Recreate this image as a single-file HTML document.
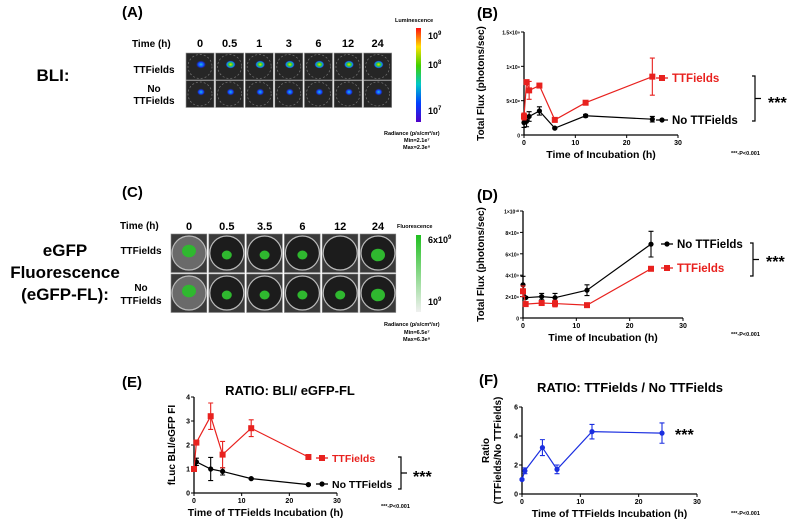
<!DOCTYPE html>
<html><head><meta charset="utf-8"><style>
body{margin:0;background:#fff}
svg{display:block;font-family:"Liberation Sans",Arial,sans-serif}
.b{font-weight:bold}
</style></head><body>
<svg id="fig" width="798" height="524" viewBox="0 0 798 524">
<defs>
<linearGradient id="lum" x1="0" y1="1" x2="0" y2="0">
<stop offset="0" stop-color="#5000c8"/><stop offset="0.2" stop-color="#0040ff"/><stop offset="0.4" stop-color="#00c8c8"/><stop offset="0.6" stop-color="#40d000"/><stop offset="0.8" stop-color="#ffe000"/><stop offset="1" stop-color="#ff1010"/>
</linearGradient>
<linearGradient id="gfp" x1="0" y1="1" x2="0" y2="0"><stop offset="0" stop-color="#f0f0f0"/><stop offset="1" stop-color="#20c020"/></linearGradient>
<radialGradient id="blob" cx="0.5" cy="0.5" r="0.5"><stop offset="0" stop-color="#ffd000"/><stop offset="0.4" stop-color="#30d030"/><stop offset="0.75" stop-color="#1080ff"/><stop offset="1" stop-color="#2020c0" stop-opacity="0"/></radialGradient>
<radialGradient id="blobb" cx="0.5" cy="0.5" r="0.5"><stop offset="0" stop-color="#20c0e0"/><stop offset="0.6" stop-color="#1040ff"/><stop offset="1" stop-color="#2020c0" stop-opacity="0"/></radialGradient>
</defs>
<g class="b" font-size="17" text-anchor="middle">
<text x="53" y="81">BLI:</text>
<text x="65" y="256">eGFP</text>
<text x="65" y="278">Fluorescence</text>
<text x="65" y="300">(eGFP-FL):</text>
</g>
<g class="b" font-size="15">
<text x="122" y="17">(A)</text>
<text x="122" y="197">(C)</text>
<text x="122" y="387">(E)</text>
<text x="477" y="18">(B)</text>
<text x="477" y="200">(D)</text>
<text x="479" y="385">(F)</text>
</g>
<g id="imgA"></g>
<g id="imgC"></g>
<g id="chartB"></g>
<g id="chartD"></g>
<g id="chartE"></g>
<g id="chartF"></g>
</svg>
<script>
const NS="http://www.w3.org/2000/svg";
function mk(p,t,a,txt){const e=document.createElementNS(NS,t);for(const k in a)e.setAttribute(k,a[k]);if(txt!==undefined)e.textContent=txt;p.appendChild(e);return e;}

const timesA=["0","0.5","1","3","6","12","24"];
const timesC=["0","0.5","3.5","6","12","24"];
(function(){
 const g=document.getElementById('imgA');
 const t=mk(g,'text',{x:132,y:47,'font-size':10,'font-weight':'bold'},'Time (h)');
 
 const x0=186,w=29.6;
 timesA.forEach((s,i)=>{
  const tx=mk(g,'text',{x:x0+i*w+14,y:47,'font-size':11,'font-weight':'bold','text-anchor':'middle'},s);
  
  for(let r=0;r<2;r++){
   const cx=x0+i*w+14,cy=53+r*27.5+13.5;
   const rc=mk(g,'rect',{x:x0+i*w,y:53+r*27.5,width:w-1.5,height:27,fill:'#262626',stroke:'#999','stroke-width':0.6});
   
   mk(g,'circle',{cx:cx,cy:cy,r:12,fill:'none',stroke:'#777','stroke-width':0.7,'stroke-dasharray':'2 2'});
   mk(g,'ellipse',{cx:cx+1,cy:cy-2,rx:r?4:5,ry:r?3.5:4,fill:r?'url(#blobb)':(i==0?'url(#blobb)':'url(#blob)')});
  }
 });
 const l1=mk(g,'text',{x:154,y:73,'font-size':10,'font-weight':'bold','text-anchor':'middle'},'TTFields');
 
 mk(g,'text',{x:154,y:92,'font-size':10,'font-weight':'bold','text-anchor':'middle'},'No');
 mk(g,'text',{x:154,y:104,'font-size':10,'font-weight':'bold','text-anchor':'middle'},'TTFields');
 const cb=mk(g,'rect',{x:416,y:28,width:5,height:94,fill:'url(#lum)'});
 
 mk(g,'text',{x:395,y:22,'font-size':5.5,'font-weight':'bold'},'Luminescence');
 [['10',39,'9'],['10',68,'8'],['10',114,'7']].forEach(a=>{const e=mk(g,'text',{x:428,y:a[1],'font-size':9,'font-weight':'bold'},a[0]);mk(e,'tspan',{dy:-4,'font-size':6},a[2]);});
 mk(g,'text',{x:384,y:135,'font-size':5.5,'font-weight':'bold'},'Radiance (p/s/cm²/sr)');
 mk(g,'text',{x:404,y:142,'font-size':5.5,'font-weight':'bold'},'Min=2.1e⁷');
 mk(g,'text',{x:403,y:149,'font-size':5.5,'font-weight':'bold'},'Max=2.3e⁸');
})();
(function(){
 const g=document.getElementById('imgC');
 const t=mk(g,'text',{x:120,y:229,'font-size':10,'font-weight':'bold'},'Time (h)');
 
 const x0=171,w=37.8;
 timesC.forEach((s,i)=>{
  const tx=mk(g,'text',{x:x0+i*w+18,y:230,'font-size':11,'font-weight':'bold','text-anchor':'middle'},s);
  
  for(let r=0;r<2;r++){
   const cx=x0+i*w+18,cy=234+r*40+19;
   const rc=mk(g,'rect',{x:x0+i*w,y:234+r*40,width:w-2,height:38.5,fill:'#3a3a3a',stroke:'#888','stroke-width':0.6});
   
   mk(g,'circle',{cx:cx,cy:cy,r:17,fill:i==0?'#6a6a6a':'#1c1c1c',stroke:'#bbb','stroke-width':1.2});
   const bs=(i==4&&r==0)?0:(i==0||i==5)?7:5;
   if(bs)mk(g,'ellipse',{cx:cx,cy:cy+(i==0?-2:2),rx:bs,ry:bs*0.9,fill:'#2fb82f'});
  }
 });
 mk(g,'text',{x:141,y:254,'font-size':10,'font-weight':'bold','text-anchor':'middle'},'TTFields');
 mk(g,'text',{x:141,y:291,'font-size':10,'font-weight':'bold','text-anchor':'middle'},'No');
 mk(g,'text',{x:141,y:304,'font-size':10,'font-weight':'bold','text-anchor':'middle'},'TTFields');
 const cb=mk(g,'rect',{x:416,y:235,width:5,height:77,fill:'url(#gfp)'});
 
 mk(g,'text',{x:397,y:228,'font-size':5.5,'font-weight':'bold'},'Fluorescence');
 const e1=mk(g,'text',{x:428,y:243,'font-size':9,'font-weight':'bold'},'6x10');mk(e1,'tspan',{dy:-4,'font-size':6},'9');
 const e2=mk(g,'text',{x:428,y:305,'font-size':9,'font-weight':'bold'},'10');mk(e2,'tspan',{dy:-4,'font-size':6},'9');
 mk(g,'text',{x:384,y:326,'font-size':5.5,'font-weight':'bold'},'Radiance (p/s/cm²/sr)');
 mk(g,'text',{x:404,y:334,'font-size':5.5,'font-weight':'bold'},'Min=6.5e⁷');
 mk(g,'text',{x:403,y:341,'font-size':5.5,'font-weight':'bold'},'Max=6.3e⁸');
})();

const bTime=[0,0.5,1,3,6,12,25];
const bTT=[0.27,0.77,0.65,0.72,0.22,0.47,0.85];
const bTTerr=[0.05,0.03,0.13,0.03,0.02,0.02,0.27];
const bNo=[0.18,0.2,0.27,0.35,0.1,0.28,0.23];
const bNoErr=[0.07,0.08,0.07,0.06,0.01,0.02,0.04];
const bTicksY=["0","5×10⁸","1×10⁹","1.5×10⁹"];
const dTime=[0,0.5,3.5,6,12,24];
const dNo=[3.1,1.9,2.0,1.9,2.6,6.9];
const dNoErr=[0.8,0.1,0.3,0.4,0.5,1.2];
const dTT=[2.5,1.3,1.4,1.35,1.2,4.6];
const dTTerr=[0.5,0.2,0.2,0.3,0.05,0.15];
const dTicksY=["0","2×10⁹","4×10⁹","6×10⁹","8×10⁹","1×10¹⁰"];
const eTime=[0,0.5,3.5,6,12,24];
const eTT=[1.0,2.1,3.2,1.6,2.7,1.5];
const eTTerr=[0.08,0.1,0.55,0.55,0.35,0.1];
const eNo=[1.0,1.3,1.0,0.9,0.6,0.35];
const eNoErr=[0.08,0.15,0.48,0.15,0.03,0.03];
const fTime=[0,0.5,3.5,6,12,24];
const fRatio=[1.0,1.6,3.2,1.7,4.3,4.2];
const fErr=[0.05,0.2,0.55,0.3,0.5,0.7];
const xTicks=["0","10","20","30"];

function axes(g,o){
 const xs=v=>o.x0+(v-o.xmin)/(o.xmax-o.xmin)*(o.x1-o.x0);
 const ys=v=>o.y0-(v-o.ymin)/(o.ymax-o.ymin)*(o.y0-o.y1);
 const ax=mk(g,'path',{d:`M${o.x0},${o.y1}V${o.y0}H${o.x1}`,fill:'none',stroke:'#000','stroke-width':1.3});
 
 xTicks.forEach((s,i)=>{const v=i*10;mk(g,'line',{x1:xs(v),x2:xs(v),y1:o.y0,y2:o.y0+3,stroke:'#000'});
  const t=mk(g,'text',{x:xs(v),y:o.y0+10,'font-size':7,'font-weight':'bold','text-anchor':'middle'},s);
  });
 o.yt.forEach((s,i)=>{const v=o.ymin+i*o.ystep;mk(g,'line',{x1:o.x0-3,x2:o.x0,y1:ys(v),y2:ys(v),stroke:'#000'});
  const t=mk(g,'text',{x:o.x0-4,y:ys(v)+2.5,'font-size':o.yfs||5,'font-weight':'bold','text-anchor':'end'},s);
  });
 const xt=mk(g,'text',{x:(o.x0+o.x1)/2,y:o.y0+23,'font-size':10.5,'font-weight':'bold','text-anchor':'middle'},o.xt);
 
 o.ytl.forEach((s,k)=>{const cy=(o.y0+o.y1)/2,cx=o.ytx+k*12;
  const yt=mk(g,'text',{x:cx,y:cy,'font-size':10,'font-weight':'bold','text-anchor':'middle',transform:`rotate(-90 ${cx} ${cy})`},s);
  });
 return [xs,ys];
}
function series(g,xs,ys,X,Y,E,color,sq,name){
 const p=mk(g,'polyline',{points:X.map((x,i)=>xs(x)+','+ys(Y[i])).join(' '),fill:'none',stroke:color,'stroke-width':1.2});
 
 X.forEach((x,i)=>{const cx=xs(x),cy=ys(Y[i]),a=ys(Y[i]+E[i]),b=ys(Y[i]-E[i]);
  mk(g,'path',{d:`M${cx},${a}V${b}M${cx-2.5},${a}H${cx+2.5}M${cx-2.5},${b}H${cx+2.5}`,stroke:color,'stroke-width':1.1,fill:'none'});
  const m=sq?mk(g,'rect',{x:cx-3,y:cy-3,width:6,height:6,fill:color}):mk(g,'circle',{cx:cx,cy:cy,r:2.6,fill:color});
  });
}
function legend(g,x,y,color,sq,txt,fs){
 mk(g,'line',{x1:x-6,x2:x+6,y1:y,y2:y,stroke:color,'stroke-width':1.3});
 if(sq)mk(g,'rect',{x:x-3,y:y-3,width:6,height:6,fill:color});else mk(g,'circle',{cx:x,cy:y,r:2.6,fill:color});
 const t=mk(g,'text',{x:x+10,y:y+4,'font-size':fs||11.5,'font-weight':'bold',fill:color},txt);
 
}
function bracket(g,x,y1,y2,sx,sy){
 const b=mk(g,'path',{d:`M${x-3},${y1}H${x}V${y2}H${x-3}M${x},${(y1+y2)/2}H${x+6}`,fill:'none',stroke:'#000','stroke-width':1.2});
 
 const s=mk(g,'text',{x:sx,y:sy,'font-size':16,'font-weight':'bold'},'***');
 
}
function pnote(g,x,y){const t=mk(g,'text',{x:x,y:y,'font-size':5.5,'font-weight':'bold'},'***-P<0.001');}

(function(){const g=document.getElementById('chartB');
 const [xs,ys]=axes(g,{x0:524,x1:678,y0:135,y1:32,xmin:0,xmax:30,ymin:0,ymax:1.5,ystep:0.5,yt:bTicksY,xt:'Time of Incubation (h)',ytl:['Total Flux (photons/sec)'],ytx:484});
 series(g,xs,ys,bTime,bNo,bNoErr,'#000',false,'no-ttfields');
 series(g,xs,ys,bTime,bTT,bTTerr,'#e8211e',true,'ttfields');
 legend(g,662,78,'#e8211e',true,'TTFields');legend(g,662,120,'#000',false,'No TTFields');
 bracket(g,755,76,121,768,108);pnote(g,731,155);})();
(function(){const g=document.getElementById('chartD');
 const [xs,ys]=axes(g,{x0:523,x1:683,y0:318,y1:211,xmin:0,xmax:30,ymin:0,ymax:10,ystep:2,yt:dTicksY,xt:'Time of Incubation (h)',ytl:['Total Flux (photons/sec)'],ytx:484});
 series(g,xs,ys,dTime,dNo,dNoErr,'#000',false,'no-ttfields');
 series(g,xs,ys,dTime,dTT,dTTerr,'#e8211e',true,'ttfields');
 legend(g,667,244,'#000',false,'No TTFields');legend(g,667,268,'#e8211e',true,'TTFields');
 bracket(g,753,243,276,766,267);pnote(g,731,336);})();
(function(){const g=document.getElementById('chartE');
 const t=mk(g,'text',{x:290,y:395,'font-size':13,'font-weight':'bold','text-anchor':'middle'},'RATIO: BLI/ eGFP-FL');
 
 const [xs,ys]=axes(g,{x0:194,x1:337,y0:493,y1:397,xmin:0,xmax:30,ymin:0,ymax:4,ystep:1,yt:['0','1','2','3','4'],yfs:7,xt:'Time of TTFields Incubation (h)',ytl:['fLuc BLI/eGFP FI'],ytx:175});
 series(g,xs,ys,eTime,eNo,eNoErr,'#000',false,'no-ttfields');
 series(g,xs,ys,eTime,eTT,eTTerr,'#e8211e',true,'ttfields');
 legend(g,322,458,'#e8211e',true,'TTFields',10.5);legend(g,322,484,'#000',false,'No TTFields',10.5);
 bracket(g,401,457,489,413,482);pnote(g,381,508);})();
(function(){const g=document.getElementById('chartF');
 const t=mk(g,'text',{x:630,y:392,'font-size':13,'font-weight':'bold','text-anchor':'middle'},'RATIO: TTFields / No TTFields');
 
 const [xs,ys]=axes(g,{x0:522,x1:697,y0:494,y1:407,xmin:0,xmax:30,ymin:0,ymax:6,ystep:2,yt:['0','2','4','6'],yfs:7,xt:'Time of TTFields Incubation (h)',ytl:['Ratio','(TTFields/No TTFields)'],ytx:489});
 series(g,xs,ys,fTime,fRatio,fErr,'#1a2ee0',false,'ratio');
 const s=mk(g,'text',{x:675,y:440,'font-size':16,'font-weight':'bold'},'***');
 
 pnote(g,731,515);})();
</script>
</body></html>
